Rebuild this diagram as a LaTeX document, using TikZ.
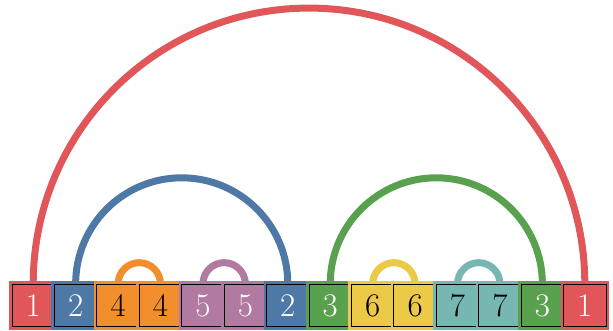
\documentclass[tikz,border=0pt]{standalone}
\usetikzlibrary{backgrounds,calc}
\definecolor{cred}{HTML}{E15759}
\definecolor{cblue}{HTML}{4E79A7}
\definecolor{corange}{HTML}{F28E2B}
\definecolor{cpurple}{HTML}{B07AA1}
\definecolor{cgreen}{HTML}{59A14F}
\definecolor{cyellow}{HTML}{EDC948}
\definecolor{cteal}{HTML}{76B7B2}
\tikzset{
  cell/.style={rectangle, minimum width=42.43pt, minimum height=42.43pt, inner sep=0pt,
    fill=#1, draw=black, line width=0.8pt,
    preaction={draw=#1, line width=6pt},
    font=\fontsize{33}{36}\selectfont},
  lighttext/.style={text=white},
  darktext/.style={text=black},
  link/.style={draw=#1, line width=7pt},
}
\begin{document}
\begin{tikzpicture}[x=1pt,y=1pt]
\useasboundingbox (0,0) rectangle (613,330);
\foreach \i/\lab/\col/\tx in {1/1/cred/lighttext, 2/2/cblue/lighttext, 3/4/corange/darktext,
  4/4/corange/darktext, 5/5/cpurple/lighttext, 6/5/cpurple/lighttext, 7/2/cblue/lighttext,
  8/3/cgreen/lighttext, 9/6/cyellow/darktext, 10/6/cyellow/darktext, 11/7/cteal/darktext,
  12/7/cteal/darktext, 13/3/cgreen/lighttext, 14/1/cred/lighttext}
  \node[cell=\col, \tx] (b\i) at ({12+42.43*(\i-0.5)}, 24.5) {\lab};
\begin{scope}[on background layer]
\foreach \a/\b/\col in {1/14/cred, 2/7/cblue, 3/4/corange, 5/6/cpurple, 8/13/cgreen, 9/10/cyellow, 11/12/cteal}
  \draw[link=\col] let \p1=(b\a.north), \p2=(b\b.north), \n1={(\x2-\x1)/2} in
    (\p1) arc[start angle=180, end angle=0, radius=\n1];
\end{scope}
\end{tikzpicture}
\end{document}
